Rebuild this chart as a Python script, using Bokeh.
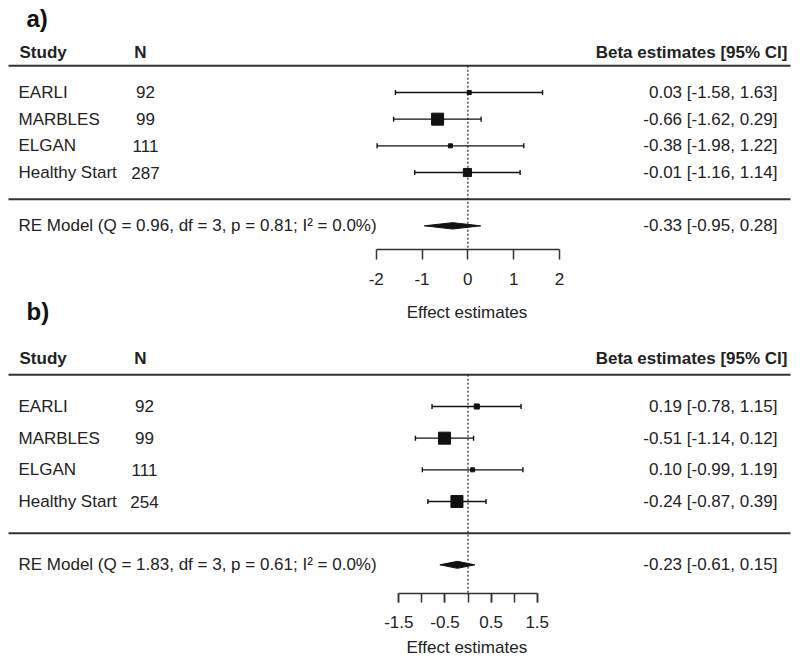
import math
from bokeh.plotting import figure
from bokeh.models import Range1d, FixedTicker, Title
from bokeh.layouts import column
from bokeh.embed import file_html
from bokeh.resources import INLINE
from bokeh.core.properties import value

# ---------------- data ----------------
studies = ["EARLI", "MARBLES", "ELGAN", "Healthy Start"]

n_a = [92, 99, 111, 287]
est_a = [0.03, -0.66, -0.38, -0.01]
lo_a = [-1.58, -1.62, -1.98, -1.16]
hi_a = [1.63, 0.29, 1.22, 1.14]
re_a = [-0.33, -0.95, 0.28]
het_a = "RE Model (Q = 0.96, df = 3, p = 0.81; I\u00b2 = 0.0%)"
ticks_a = [-2, -1, 0, 1, 2]
minor_a = []

n_b = [92, 99, 111, 254]
est_b = [0.19, -0.51, 0.10, -0.24]
lo_b = [-0.78, -1.14, -0.99, -0.87]
hi_b = [1.15, 0.12, 1.19, 0.39]
re_b = [-0.23, -0.61, 0.15]
het_b = "RE Model (Q = 1.83, df = 3, p = 0.61; I\u00b2 = 0.0%)"
ticks_b = [-1.5, -0.5, 0.5, 1.5]
minor_b = [-1.5, -1, -0.5, 0, 0.5, 1, 1.5]

panel_tags = ["a)", "b)"]
header_study = "Study"
header_n = "N"
header_ci = "Beta estimates [95% CI]"
axis_title = "Effect estimates"

FONT = value("Liberation Sans")
TXT = "#222222"
LINE = "#333333"
FS = "17px"
W = 800


def fmt(e, l, h):
    return f"{e:.2f} [{l:.2f}, {h:.2f}]"


def tick_str(t):
    return f"{t:g}"


def panel(n, est, lo, hi, re, het, ticks, minor, xr, yr, height, min_bottom,
          tick_out, tick_standoff, dmd_half_px, n_center, n_head):
    p = figure(width=W, height=height, x_range=Range1d(*xr), y_range=Range1d(*yr),
               output_backend="svg", toolbar_location=None, y_axis_location=None,
               min_border_left=0, min_border_right=0, min_border_top=0,
               min_border_bottom=min_bottom, outline_line_color=None,
               background_fill_color="white", border_fill_color="white")
    p.grid.visible = False
    p.extra_x_ranges = {"px": Range1d(0, W)}
    px_per_row = (height - min_bottom) / (yr[1] - yr[0])

    k = len(studies)
    rows = [k - i for i in range(k)]

    # horizontal rules
    p.segment(x0=[8, 8], x1=[790, 790], y0=[5, 0], y1=[5, 0], x_range_name="px",
              line_color=LINE, line_width=2)
    # reference line at 0
    p.segment(x0=[0], x1=[0], y0=[5], y1=[yr[0]], line_color="#222222",
              line_width=1.2, line_dash="2 2")

    # CI whiskers
    p.segment(x0=lo, x1=hi, y0=rows, y1=rows, line_color="#111111", line_width=1.4)
    p.scatter(x=lo + hi, y=rows + rows, marker="dash", angle=math.pi / 2, size=5,
              line_color="#111111", line_width=1.4)

    # square sizes from inverse-variance weights
    se = [(h - l) / 3.92 for l, h in zip(lo, hi)]
    w = [1 / s ** 2 for s in se]
    wmin, wmax = min(w), max(w)
    sizes = [4 + 8 * (wi - wmin) / (wmax - wmin) for wi in w]
    p.scatter(x=est, y=rows, marker="square", size=sizes, color="#111111")

    # summary diamond
    h = dmd_half_px / px_per_row
    p.patch(x=[re[1], re[0], re[2], re[0]], y=[-1, -1 + h, -1, -1 - h],
            fill_color="#111111", line_color="#111111", line_width=1)

    # text columns
    p.text(x=[19], y=[5.5], text=[header_study], x_range_name="px", text_font=FONT,
           text_font_size=FS, text_font_style="bold", text_baseline="middle",
           text_color=TXT)
    p.text(x=[n_head], y=[5.5], text=[header_n], x_range_name="px", text_font=FONT,
           text_font_size=FS, text_font_style="bold", text_baseline="middle",
           text_align="center", text_color=TXT)
    p.text(x=[787], y=[5.5], text=[header_ci], x_range_name="px", text_font=FONT,
           text_font_size=FS, text_font_style="bold", text_baseline="middle",
           text_align="right", text_color=TXT)

    p.text(x=[18] * k, y=rows, text=studies, x_range_name="px", text_font=FONT,
           text_font_size=FS, text_baseline="middle", text_color=TXT)
    p.text(x=[n_center] * k, y=rows, text=[str(v) for v in n], x_range_name="px",
           text_font=FONT, text_font_size=FS, text_baseline="middle",
           text_align="center", text_color=TXT)
    p.text(x=[777] * k, y=rows, text=[fmt(e, l, hh) for e, l, hh in zip(est, lo, hi)],
           x_range_name="px", text_font=FONT, text_font_size=FS,
           text_baseline="middle", text_align="right", text_color=TXT)

    p.text(x=[18], y=[-1], text=[het], x_range_name="px", text_font=FONT,
           text_font_size=FS, text_baseline="middle", text_color=TXT)
    p.text(x=[777], y=[-1], text=[fmt(*re)], x_range_name="px", text_font=FONT,
           text_font_size=FS, text_baseline="middle", text_align="right", text_color=TXT)

    ax = p.xaxis[0]
    ax.ticker = FixedTicker(ticks=ticks, minor_ticks=minor)
    ax.major_label_overrides = {t: tick_str(t) for t in ticks}
    ax.bounds = (minor[0] if minor else ticks[0], minor[-1] if minor else ticks[-1])
    ax.axis_line_color = LINE
    ax.axis_line_width = 1.5
    ax.major_tick_in = 0
    ax.major_tick_out = tick_out
    ax.minor_tick_in = 0
    ax.minor_tick_out = tick_out
    ax.major_tick_line_color = LINE
    ax.minor_tick_line_color = LINE
    ax.major_tick_line_width = 1.5
    ax.minor_tick_line_width = 1.5
    ax.major_label_standoff = tick_standoff
    ax.major_label_text_font = "Liberation Sans"
    ax.major_label_text_font_size = FS
    ax.major_label_text_color = TXT
    return p


# panel a: frame covers page y 0..249, axis below
pa = panel(n_a, est_a, lo_a, hi_a, re_a, het_a, ticks_a, minor_a,
           xr=(-10.197, 7.258), yr=(-1.887, 7.449), height=298, min_bottom=49,
           tick_out=10, tick_standoff=13, dmd_half_px=3.2,
           n_center=145, n_head=140)
pa.text(x=[26], y=[6.774], text=[panel_tags[0]], x_range_name="px", text_font=FONT,
        text_font_size="24px", text_font_style="bold", text_baseline="middle",
        text_color="#111111")

# panel b: frame covers page y 298..593, axis below
pb = panel(n_b, est_b, lo_b, hi_b, re_b, het_b, ticks_b, minor_b,
           xr=(-10.135, 7.208), yr=(-1.905, 7.41), height=363, min_bottom=68,
           tick_out=9, tick_standoff=13, dmd_half_px=3.5,
           n_center=144, n_head=140)
# axis title of panel b, centred under the effect axis
pb.add_layout(Title(text=axis_title, align="left", offset=406, standoff=10,
                    text_font="Liberation Sans", text_font_size=FS,
                    text_font_style="normal", text_color=TXT), "below")
# axis title of panel a and the tag of panel b sit in the gap above panel b's table
pb.text(x=[466.5], y=[6.968], text=[axis_title], x_range_name="px", text_font=FONT,
        text_font_size=FS, text_baseline="middle", text_align="center", text_color=TXT)
pb.text(x=[26], y=[6.999], text=[panel_tags[1]], x_range_name="px", text_font=FONT,
        text_font_size="24px", text_font_style="bold", text_baseline="middle",
        text_color="#111111")

layout = column(pa, pb, spacing=0)
open("out.html", "w").write(file_html(layout, INLINE))
